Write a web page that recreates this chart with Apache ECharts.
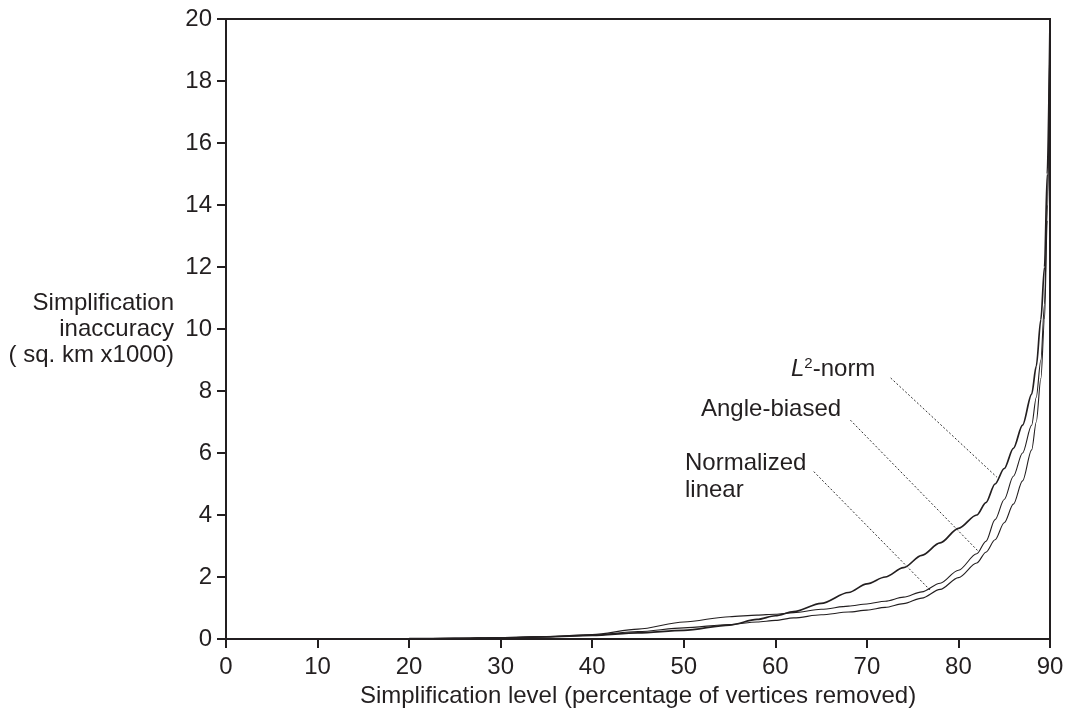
<!DOCTYPE html>
<html>
<head>
<meta charset="utf-8">
<script src="https://cdn.jsdelivr.net/npm/echarts@6/dist/echarts.min.js"></script>
<style>
html,body{margin:0;padding:0;background:#fff;}
#chart{width:1067px;height:713px;}
</style>
</head>
<body>
<div id="chart"></div>
<script>
// Simplification level (% of vertices removed)
const xLevels = [0,5,10,15,20,25,30,35,40,45,50,55,58,60,62,65,68,70,72,74,76,78,80,82,83,84,85,86,87,88,88.5,89,89.4,89.7,90];
// Inaccuracy (sq. km x1000)
const l2Norm = [0,0,0,0.005,0.01,0.02,0.04,0.07,0.12,0.2,0.28,0.45,0.63,0.75,0.88,1.15,1.5,1.78,2.0,2.3,2.7,3.1,3.57,4.0,4.4,5.0,5.5,6.15,6.9,7.9,8.8,10.3,12,15,20];
const angleBiased = [0,0,0,0.005,0.01,0.02,0.05,0.08,0.14,0.32,0.55,0.72,0.77,0.8,0.85,0.96,1.06,1.13,1.22,1.35,1.52,1.8,2.22,2.75,3.15,3.85,4.5,5.25,6.0,6.9,7.8,9.0,10.8,14,20];
const normalizedLinear = [0,0,0,0.005,0.01,0.02,0.04,0.07,0.12,0.24,0.36,0.47,0.55,0.6,0.68,0.78,0.87,0.93,1.02,1.14,1.32,1.6,1.98,2.45,2.8,3.2,3.75,4.35,5.1,6.1,7.0,8.4,10.3,13.5,20];
const xTicks = [0,10,20,30,40,50,60,70,80,90];
const yTicks = [0,2,4,6,8,10,12,14,16,18,20];
// leader lines (label end -> curve), in data coordinates
const leaderL2 = [[72.6,8.42],[84.2,5.22]];
const leaderAngle = [[68.2,7.06],[82.2,2.82]];
const leaderNorm = [[64.2,5.4],[76.9,1.58]];

const FONT = "'Liberation Sans', Arial, Helvetica, sans-serif";
const FS = 24;
const INK = '#231f20';
const pairs = ys => xLevels.map((x,i)=>[x, ys[i]]);
const leader = seg => ({
  silent:true, symbol:['none','none'], animation:false,
  lineStyle:{color:'#333', width:1, type:[2,2]}, label:{show:false},
  data:[[{coord:seg[0]},{coord:seg[1]}]]
});

const chart = echarts.init(document.getElementById('chart'));
chart.setOption({
  animation:false,
  backgroundColor:'#fff',
  grid:{left:226, right:17, top:19, bottom:74, show:true, borderColor:INK, borderWidth:2},
  xAxis:{
    type:'value', min:0, max:90, interval:10,
    name:'Simplification level (percentage of vertices removed)',
    nameLocation:'middle', nameGap:42,
    nameTextStyle:{fontFamily:FONT, fontSize:FS, color:INK},
    axisLine:{lineStyle:{color:INK, width:2}},
    axisTick:{show:true, inside:false, length:9, lineStyle:{color:INK, width:2}},
    axisLabel:{fontFamily:FONT, fontSize:FS, color:INK, margin:16,
      formatter:v=> xTicks.includes(v) ? String(v) : ''},
    splitLine:{show:false}
  },
  yAxis:{
    type:'value', min:0, max:20, interval:2,
    name:'Simplification\ninaccuracy\n( sq. km x1000)',
    nameLocation:'middle', nameGap:52, nameRotate:0,
    nameTextStyle:{fontFamily:FONT, fontSize:FS, color:INK, align:'right', lineHeight:26, padding:[5,0,0,0]},
    axisLine:{lineStyle:{color:INK, width:2}},
    axisTick:{show:true, inside:false, length:9, lineStyle:{color:INK, width:2}},
    axisLabel:{fontFamily:FONT, fontSize:FS, color:INK, margin:14,
      formatter:v=> yTicks.includes(v) ? String(v) : ''},
    splitLine:{show:false}
  },
  series:[
    {name:'L2-norm', type:'line', data:pairs(l2Norm), showSymbol:false, smooth:0.3, smoothMonotone:'x',
     lineStyle:{color:INK, width:1.7}, markLine:leader(leaderL2), z:3},
    {name:'Angle-biased', type:'line', data:pairs(angleBiased), showSymbol:false, smooth:0.3, smoothMonotone:'x',
     lineStyle:{color:INK, width:1.1}, markLine:leader(leaderAngle), z:2},
    {name:'Normalized linear', type:'line', data:pairs(normalizedLinear), showSymbol:false, smooth:0.3, smoothMonotone:'x',
     lineStyle:{color:INK, width:1.1}, markLine:leader(leaderNorm), z:2}
  ],
  graphic:[
    {type:'text', left:791, top:356, style:{
      text:'{i|L}{s|2}{t|-norm}', fill:INK,
      rich:{
        i:{fontFamily:FONT, fontSize:FS, fontStyle:'italic', fill:INK, verticalAlign:'bottom'},
        s:{fontFamily:FONT, fontSize:15, fill:INK, verticalAlign:'top', padding:[0,0,10,0]},
        t:{fontFamily:FONT, fontSize:FS, fill:INK, verticalAlign:'bottom'}
      }}},
    {type:'text', left:701, top:397, style:{text:'Angle-biased', font:FS+'px '+FONT, fill:INK}},
    {type:'text', left:685, top:450, style:{text:'Normalized\nlinear', font:FS+'px '+FONT, fill:INK, lineHeight:27}}
  ]
});
</script>
</body>
</html>
